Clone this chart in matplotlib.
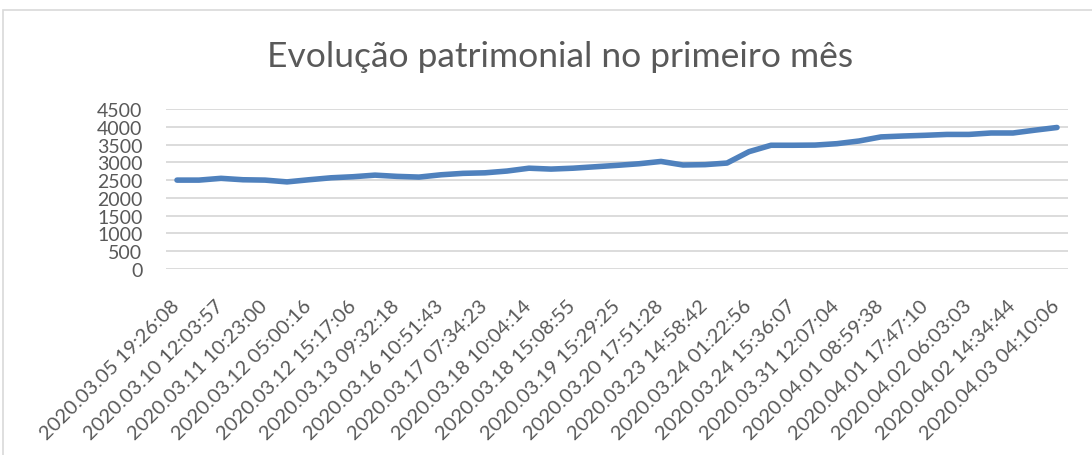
import matplotlib.pyplot as plt
import matplotlib.patches as patches

# values (41 points, every other one labelled)
valores = [2500, 2500, 2550, 2510, 2500, 2450, 2510, 2565, 2595, 2640,
           2605, 2585, 2650, 2690, 2705, 2755, 2835, 2810, 2835, 2875,
           2915, 2960, 3025, 2925, 2935, 2980, 3300, 3480, 3480, 3485,
           3525, 3600, 3715, 3740, 3760, 3785, 3785, 3825, 3825, 3905, 3980]

rotulos = ["2020.03.05 19:26:08", "2020.03.10 12:03:57", "2020.03.11 10:23:00",
           "2020.03.12 05:00:16", "2020.03.12 15:17:06", "2020.03.13 09:32:18",
           "2020.03.16 10:51:43", "2020.03.17 07:34:23", "2020.03.18 10:04:14",
           "2020.03.18 15:08:55", "2020.03.19 15:29:25", "2020.03.20 17:51:28",
           "2020.03.23 14:58:42", "2020.03.24 01:22:56", "2020.03.24 15:36:07",
           "2020.03.31 12:07:04", "2020.04.01 08:59:38", "2020.04.01 17:47:10",
           "2020.04.02 06:03:03", "2020.04.02 14:34:44", "2020.04.03 04:10:06"]

yticks = list(range(0, 4501, 500))

cinza = '#595959'
plt.rcParams['font.family'] = ['Lato', 'DejaVu Sans']

fig = plt.figure(figsize=(10.92, 4.56), dpi=100)

# chart border like the excel frame
borda = patches.Rectangle((3 / 1092, -0.05), 1.1, (456 - 11) / 456 + 0.05,
                          transform=fig.transFigure, fill=False,
                          edgecolor='#D9D9D9', linewidth=1.2)
fig.patches.append(borda)

ax = fig.add_axes([166 / 1092, 186 / 456, (1068 - 166) / 1092, 160 / 456])

x = list(range(len(valores)))
ax.plot(x, valores, color='#4F81BD', linewidth=4, solid_capstyle='round',
        solid_joinstyle='round', zorder=3)

ax.set_xlim(-0.5, len(valores) - 0.5)
ax.set_ylim(0, 4500)
ax.set_yticks(yticks)
ax.set_yticklabels([str(v) for v in yticks])
ax.yaxis.grid(True, color='#D9D9D9', linewidth=1.3)
ax.set_axisbelow(True)

ax.set_xticks(list(range(0, len(valores), 2)))
ax.set_xticklabels(rotulos, rotation=45, ha='right', va='center',
                   rotation_mode='anchor')

for s in ax.spines.values():
    s.set_visible(False)
ax.tick_params(axis='both', length=0, colors=cinza, labelsize=14)
ax.tick_params(axis='x', labelsize=14.5, pad=24)
ax.tick_params(axis='y', pad=17)

fig.text(0.513, (456 - 57) / 456, "Evolução patrimonial no primeiro mês",
         ha='center', va='center', fontsize=25.5, color=cinza)

fig.savefig("out.png", dpi=100)
